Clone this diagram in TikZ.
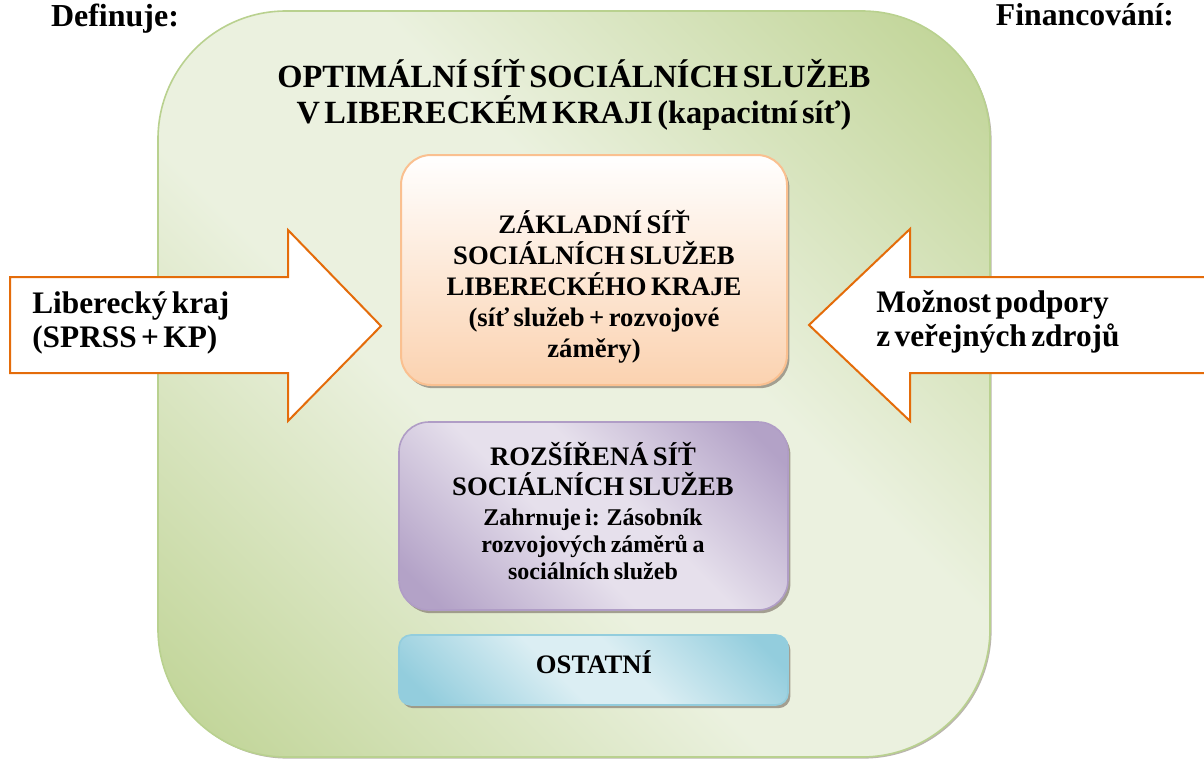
\documentclass[tikz,border=0pt]{standalone}
\usepackage{fontspec}
\setmainfont{Liberation Serif}
\usetikzlibrary{shadows}
\definecolor{gdark}{HTML}{C3D69B}
\definecolor{glight}{HTML}{EBF1DF}
\definecolor{gborder}{HTML}{B9D18F}
\definecolor{otop}{HTML}{FFFFFF}
\definecolor{obot}{HTML}{FBD2B0}
\definecolor{oborder}{HTML}{FAC090}
\definecolor{pdark}{HTML}{B3A2C7}
\definecolor{plight}{HTML}{E6E0EC}
\definecolor{pborder}{HTML}{B09DC6}
\definecolor{cdark}{HTML}{93CDDD}
\definecolor{clight}{HTML}{DBEEF3}
\definecolor{cborder}{HTML}{93CDDD}
\definecolor{arrowc}{HTML}{E46C0A}
\definecolor{shadowc}{HTML}{8C8478}
\pgfdeclarehorizontalshading{greenshade}{100bp}{color(0bp)=(gdark); color(18bp)=(gdark); color(42bp)=(glight); color(58bp)=(glight); color(82bp)=(gdark); color(100bp)=(gdark)}
\pgfdeclarehorizontalshading{purpleshade}{100bp}{color(0bp)=(pdark); color(20bp)=(pdark); color(44bp)=(plight); color(56bp)=(plight); color(80bp)=(pdark); color(100bp)=(pdark)}
\pgfdeclarehorizontalshading{cyanshade}{100bp}{color(0bp)=(cdark); color(20bp)=(cdark); color(44bp)=(clight); color(56bp)=(clight); color(80bp)=(cdark); color(100bp)=(cdark)}
\begin{document}
\begin{tikzpicture}[x=0.75pt,y=-0.75pt,
  boxshadow/.style={drop shadow={shadow xshift=1.8pt,shadow yshift=-2.4pt,fill=shadowc,opacity=0.75}},
  bigbox/.style={draw=gborder,line width=1.2pt,rounded corners=96pt,
    shading=greenshade,shading angle=45,
    minimum width=624pt,minimum height=559.5pt,inner sep=0pt,
    drop shadow={shadow xshift=1.2pt,shadow yshift=-1.2pt,fill=shadowc,opacity=0.6}},
  orangebox/.style={draw=oborder,line width=1.5pt,rounded corners=22.5pt,
    top color=otop,bottom color=obot,
    minimum width=289.5pt,minimum height=172.5pt,inner sep=0pt,boxshadow},
  purplebox/.style={draw=pborder,line width=1.2pt,rounded corners=22.5pt,
    shading=purpleshade,shading angle=45,
    minimum width=291.75pt,minimum height=141pt,inner sep=0pt,boxshadow},
  cyanbox/.style={draw=cborder,line width=1.2pt,rounded corners=9pt,
    shading=cyanshade,shading angle=45,
    minimum width=291.75pt,minimum height=52.5pt,inner sep=0pt,boxshadow},
  bigarrow/.style={draw=arrowc,fill=white,line width=1.5pt,line join=miter},
  txt/.style={inner sep=0pt,font=\bfseries},
]
\useasboundingbox (0,0) rectangle (1204,761);

% outer green container
\node[bigbox] (optimal) at (574,384) {};

% arrows
\draw[bigarrow] (10,277) -- (288,277) -- (288,230) -- (381,326) -- (288,421) -- (288,373) -- (10,373) -- cycle;
\draw[bigarrow] (1212,277) -- (910,277) -- (910,229) -- (809,325) -- (910,421) -- (910,373) -- (1212,373);

% inner boxes
\node[orangebox] (zakladni) at (594,270) {};
\node[purplebox] (rozsirena) at (593.5,516) {};
\node[cyanbox] (ostatni) at (593.5,670) {};

% texts
\node[txt,anchor=base] (definuje) at (115,26) {\fontsize{24}{26}\selectfont Definuje:};
\node[txt,anchor=base] (financovani) at (1085,25) {\fontsize{23.8}{26}\selectfont Financování:};

\node[txt,anchor=base,text width=600pt,align=center] (title) at (574,87)
  {\fontsize{24.3}{27}\selectfont OPTIMÁLNÍ SÍŤ SOCIÁLNÍCH SLUŽEB\\V LIBERECKÉM KRAJI (kapacitní síť)\par};

\node[txt,anchor=base,text width=280pt,align=center] (zakladnitext) at (594,233)
  {\fontsize{20}{23.25}\selectfont ZÁKLADNÍ SÍŤ\\SOCIÁLNÍCH SLUŽEB\\LIBERECKÉHO KRAJE\\(síť služeb + rozvojové\\záměry)\par};

\node[txt,anchor=base,text width=280pt,align=center] (rozsirenahead) at (593,465)
  {\fontsize{20}{22.5}\selectfont ROZŠÍŘENÁ SÍŤ\\SOCIÁLNÍCH SLUŽEB\par};
\node[txt,anchor=base,text width=280pt,align=center] (rozsirenasub) at (593,525)
  {\fontsize{18}{20.6}\selectfont Zahrnuje i: Zásobník\\rozvojových záměrů a\\sociálních služeb\par};

\node[txt,anchor=base] (ostatnitext) at (594,673) {\fontsize{20}{23}\selectfont OSTATNÍ};

\node[txt,anchor=base west,text width=200pt,align=left] (krajtext) at (32,313)
  {\fontsize{23.5}{26}\selectfont Liberecký kraj\\(SPRSS + KP)\par};
\node[txt,anchor=base west,text width=230pt,align=left] (podporatext) at (876,312)
  {\fontsize{23.5}{26}\selectfont Možnost podpory\\z veřejných zdrojů\par};
\end{tikzpicture}
\end{document}
